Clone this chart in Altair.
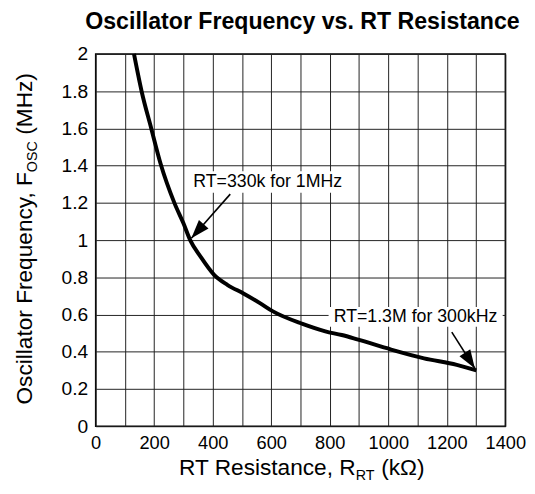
import math
import altair as alt
import pandas as pd

# ---- data ----
R_kohm = [131, 157, 190, 222, 269, 300, 323, 359, 404, 450, 505, 560, 606, 707,
          785, 841, 897, 1010, 1122, 1234, 1301]
F_mhz = [2.0, 1.80, 1.60, 1.41, 1.20, 1.09, 1.00, 0.91, 0.815, 0.76, 0.713, 0.663,
         0.617, 0.55, 0.51, 0.49, 0.465, 0.412, 0.365, 0.33, 0.30]

x_ticks = [0, 100, 200, 300, 400, 500, 600, 700, 800, 900, 1000, 1100, 1200, 1300, 1400]
y_ticks = [0, 0.2, 0.4, 0.6, 0.8, 1, 1.2, 1.4, 1.6, 1.8, 2]

ann_text = ["RT=330k for 1MHz", "RT=1.3M for 300kHz"]
ann_text_r = [588, 1093]
ann_text_f = [1.312, 0.587]
ann_box_r1 = [317, 796]
ann_box_r2 = [886, 1391]
ann_box_f1 = [1.254, 0.534]
ann_box_f2 = [1.37, 0.64]
arrow_tail_r = [460, 1217]
arrow_tail_f = [1.247, 0.506]
arrow_tip_r = [327, 1296]
arrow_tip_f = [1.01, 0.31]

title_text = "Oscillator Frequency vs. RT Resistance"
y_title_parts = ["Oscillator Frequency, F", "OSC", "(MHz)"]
x_title_parts = ["RT Resistance, R", "RT", "(k\u03a9)"]

FONT = "Liberation Sans"
W, H = 416, 378
XMAX, YMAX = 1400, 2

# ---- tables ----
curve = pd.DataFrame({"R": R_kohm, "F": F_mhz})
ann = pd.DataFrame({"text": ann_text, "R": ann_text_r, "F": ann_text_f,
                    "r1": ann_box_r1, "r2": ann_box_r2, "f1": ann_box_f1, "f2": ann_box_f2})
angles = []
for tr, tf, hr, hf in zip(arrow_tail_r, arrow_tail_f, arrow_tip_r, arrow_tip_f):
    dx = (hr - tr) * W / XMAX
    dy = -(hf - tf) * H / YMAX
    angles.append(math.degrees(math.atan2(dx, -dy)) % 360)
arrows = pd.DataFrame({"r0": arrow_tail_r, "f0": arrow_tail_f,
                       "r1": arrow_tip_r, "f1": arrow_tip_f, "ang": angles})

xs = alt.Scale(domain=[0, XMAX], nice=False)
ys = alt.Scale(domain=[0, YMAX], nice=False)

x_axis = alt.Axis(values=x_ticks, title=None, ticks=False, domain=False, format="d",
                  labelExpr="datum.value % 200 == 0 ? datum.label : ''",
                  labelFontSize=18.5, labelFont=FONT, labelColor="black", labelPadding=8,
                  labelFlush=False,
                  grid=True, gridColor="#222", gridWidth=1, gridOpacity=1,
                  labelOverlap=False)
y_axis = alt.Axis(values=y_ticks, title=None, ticks=False, domain=False, format="~g",
                  labelFontSize=19.5, labelFont=FONT, labelColor="black", labelPadding=8,
                  labelFlush=False,
                  grid=True, gridColor="#222", gridWidth=1, gridOpacity=1,
                  labelOverlap=False)


def X(field):
    return alt.X(field, scale=xs, axis=x_axis)


def Y(field):
    return alt.Y(field, scale=ys, axis=y_axis)


line = alt.Chart(curve).mark_line(color="black", strokeWidth=4, interpolate="monotone").encode(
    x=X("R:Q"), y=Y("F:Q"))

boxes = alt.Chart(ann).mark_rect(fill="white").encode(
    x=X("r1:Q"), x2="r2:Q", y=Y("f1:Q"), y2="f2:Q")
texts = alt.Chart(ann).mark_text(font=FONT, fontSize=18, color="black",
                                 align="center", baseline="middle").encode(
    x=X("R:Q"), y=Y("F:Q"), text="text:N")

shafts = alt.Chart(arrows).mark_rule(color="black", strokeWidth=1.6).encode(
    x=X("r0:Q"), y=Y("f0:Q"), x2="r1:Q", y2="f1:Q")
heads = alt.Chart(arrows).mark_point(
    shape="M0,0L0.68,2L-0.68,2Z", filled=True, size=361, color="black", opacity=1
).encode(x=X("r1:Q"), y=Y("f1:Q"), angle=alt.Angle("ang:Q", scale=None))

# chart title and composite axis titles (with subscripts)
tt = pd.DataFrame({"t": [title_text]})
title = alt.Chart(tt).mark_text(font=FONT, fontSize=23.5, fontWeight="bold", align="center",
                                baseline="alphabetic", color="black").encode(
    text="t:N", x=alt.value(W / 2 + 2), y=alt.value(-25))

yt = pd.DataFrame({"t": y_title_parts})
ymain = alt.Chart(yt.iloc[[0]]).mark_text(font=FONT, fontSize=23, angle=270, align="right",
                                          baseline="alphabetic", color="black").encode(
    text="t:N", x=alt.value(-65), y=alt.value(120))
ysub = alt.Chart(yt.iloc[[1]]).mark_text(font=FONT, fontSize=14.5, angle=270, align="left",
                                         baseline="alphabetic", color="black").encode(
    text="t:N", x=alt.value(-60), y=alt.value(120))
yend = alt.Chart(yt.iloc[[2]]).mark_text(font=FONT, fontSize=23, angle=270, align="left",
                                         baseline="alphabetic", color="black").encode(
    text="t:N", x=alt.value(-65), y=alt.value(82))

xt = pd.DataFrame({"t": x_title_parts})
xmain = alt.Chart(xt.iloc[[0]]).mark_text(font=FONT, fontSize=23, align="right",
                                          baseline="alphabetic", color="black").encode(
    text="t:N", x=alt.value(264), y=alt.value(428))
xsub = alt.Chart(xt.iloc[[1]]).mark_text(font=FONT, fontSize=14.5, align="left",
                                         baseline="alphabetic", color="black").encode(
    text="t:N", x=alt.value(264), y=alt.value(433))
xend = alt.Chart(xt.iloc[[2]]).mark_text(font=FONT, fontSize=23, align="left",
                                         baseline="alphabetic", color="black").encode(
    text="t:N", x=alt.value(290), y=alt.value(428))

chart = alt.layer(line, boxes, texts, shafts, heads, title,
                  ymain, ysub, yend, xmain, xsub, xend).properties(
    width=W, height=H,
    autosize="none",
    padding={"left": 89, "top": 43, "right": 22, "bottom": 57},
).configure_view(stroke="black", strokeWidth=1.5)

chart.save("out.html", embed_options={"renderer": "svg", "actions": False})
